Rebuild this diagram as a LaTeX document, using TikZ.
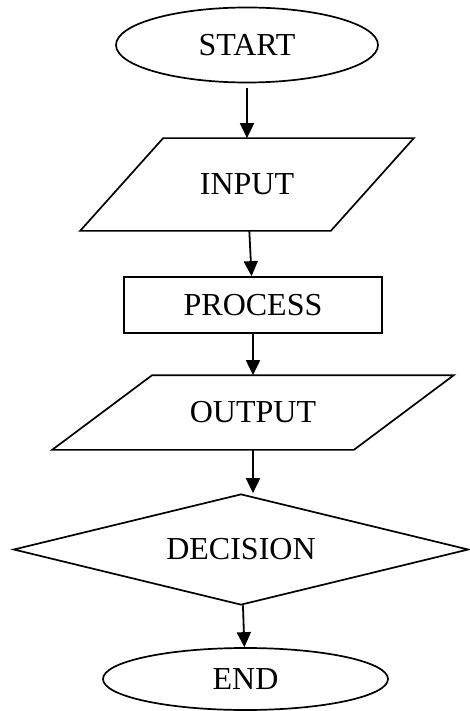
\documentclass[tikz,border=0pt]{standalone}
\usepackage{fontspec}
\setmainfont{Liberation Serif}
\usetikzlibrary{shapes.geometric,arrows.meta}

\begin{document}
\begin{tikzpicture}[x=1pt,y=-1pt,
    box/.style={draw,line width=1.7pt,inner sep=0pt,font=\fontsize{32}{38}\selectfont},
    io/.style={box,draw=none},
    flow/.style={line width=1.8pt,-{Triangle[length=15pt,width=14pt]}}]
\useasboundingbox (0,0) rectangle (469,711);
\node[box,ellipse,minimum width=262pt,minimum height=75pt] (start) at (247,45) {START};
\node[io,minimum width=332pt,minimum height=91pt] (input) at (247,184.5) {INPUT};
\node[box,rectangle,minimum width=258pt,minimum height=56pt] (process) at (253,305) {PROCESS};
\node[io,minimum width=400pt,minimum height=73pt] (output) at (253,412.5) {OUTPUT};
\node[box,diamond,aspect=4.1,minimum width=455pt,minimum height=111pt] (decision) at (241,549.5) {DECISION};
\node[box,ellipse,minimum width=285pt,minimum height=62pt] (stop) at (245.5,679) {END};
% parallelograms round the io nodes
\draw[line width=1.7pt] (input.south west) -- ([xshift=83pt]input.north west) -- (input.north east)
    -- ([xshift=-83pt]input.south east) -- cycle;
\draw[line width=1.7pt] (output.south west) -- ([xshift=100pt]output.north west) -- (output.north east)
    -- ([xshift=-100pt]output.south east) -- cycle;
\draw[flow,shorten <=5pt] (start) -- (input);
\draw[flow] (input) -- (process);
\draw[flow] (process) -- (output);
\draw[flow] (output.south) -- (output.south |- decision.north);
\draw[flow] (decision) -- (stop);
\end{tikzpicture}
\end{document}
